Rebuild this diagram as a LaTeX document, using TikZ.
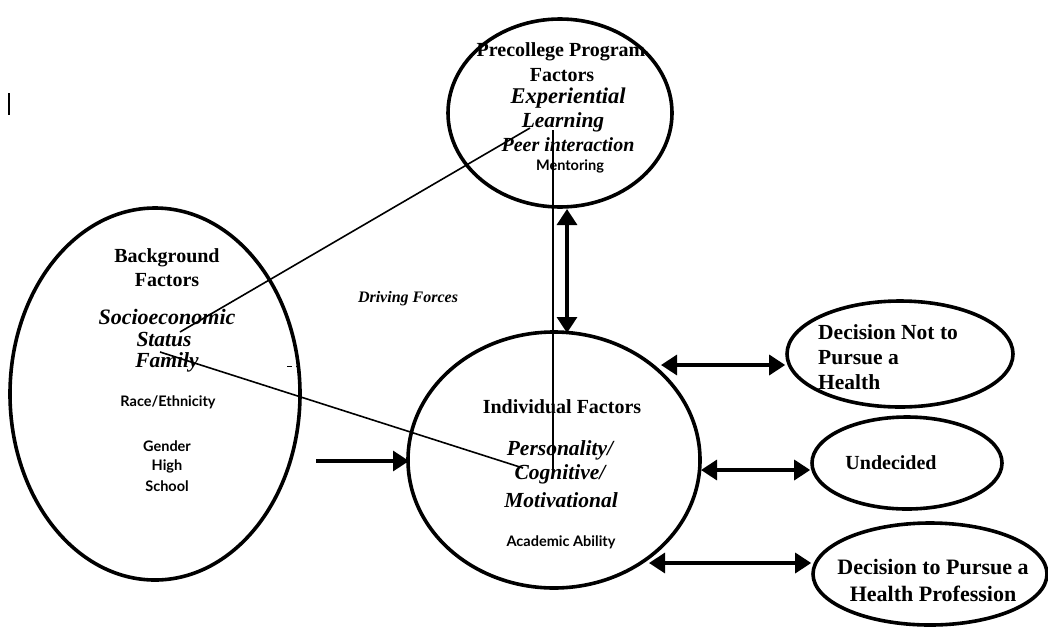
\documentclass[tikz,border=0pt]{standalone}
\usepackage{fontspec}
\setmainfont{Liberation Serif}
\newfontfamily\gill{Lato}
\usetikzlibrary{shapes.geometric,arrows.meta}
\tikzset{
  oval/.style={ellipse, draw, line width=3.6pt, inner sep=0pt},
  tb/.style={inner sep=0pt, font=\bfseries\fontsize{20}{22}\selectfont},
  ti/.style={inner sep=0pt, font=\bfseries\itshape\fontsize{21.5}{23}\selectfont},
  ts/.style={inner sep=0pt, font=\gill\bfseries\fontsize{14.5}{16}\selectfont},
  dbl/.style={line width=3.2pt, {Triangle[length=16pt,width=20pt]}-{Triangle[length=16pt,width=20pt]}},
  sgl/.style={line width=3.2pt, -{Triangle[length=16pt,width=20pt]}},
  thin/.style={line width=1.6pt}
}
\begin{document}
\begin{tikzpicture}[x=1pt,y=-1pt]
\useasboundingbox (0,0) rectangle (1048,627);
% ellipses
\node[oval, minimum width=224pt, minimum height=188pt] (pre) at (560,113) {};
\node[oval, minimum width=290pt, minimum height=372pt] (bg) at (155,394) {};
\node[oval, minimum width=292pt, minimum height=256pt] (ind) at (554,460) {};
\node[oval, minimum width=226pt, minimum height=106pt] (dnot) at (900,354) {};
\node[oval, minimum width=190pt, minimum height=92pt] (und) at (907,463) {};
\node[oval, minimum width=234pt, minimum height=102pt] (dyes) at (930,574) {};
% precollege text
\node[tb] (p1) at (561,52) {Precollege Program};
\node[tb] (p2) at (562,75) {Factors};
\node[ti, font=\bfseries\itshape\fontsize{22.5}{24}\selectfont] (p3) at (568,98) {Experiential};
\node[ti] (p4) at (563,122) {Learning};
\node[ti, font=\bfseries\itshape\fontsize{20}{22}\selectfont] (p5) at (568,145) {Peer interaction};
\node[ts] (p6) at (570,166) {Mentoring};
% background text
\node[tb] (b1) at (167,258) {Background};
\node[tb] (b2) at (167,280) {Factors};
\node[ti, font=\bfseries\itshape\fontsize{22}{24}\selectfont] (b3) at (167,317) {Socioeconomic};
\node[ti] (b4) at (164,340) {Status};
\node[ti] (b5) at (167,362) {Family};
\node[ts] (b6) at (168,402) {Race/Ethnicity};
\node[ts] (b7) at (167,446) {Gender};
\node[ts] (b8) at (167,466) {High};
\node[ts] (b9) at (167,486) {School};
% individual text
\node[tb] (i1) at (562,407) {Individual Factors};
\node[ti] (i2) at (560,450) {Personality/};
\node[ti] (i3) at (560,474) {Cognitive/};
\node[ti] (i4) at (561,500) {Motivational};
\node[ts] (i5) at (561,542) {Academic Ability};
% outcomes text
\node[tb, font=\bfseries\fontsize{21.5}{23}\selectfont, anchor=west] (d1) at (818,332) {Decision Not to};
\node[tb, font=\bfseries\fontsize{21.5}{23}\selectfont, anchor=west] (d2) at (818,358) {Pursue a};
\node[tb, font=\bfseries\fontsize{21.5}{23}\selectfont, anchor=west] (d3) at (818,382) {Health};
\node[tb] (u1) at (891,463) {Undecided};
\node[tb, font=\bfseries\fontsize{22}{24}\selectfont] (y1) at (933,567) {Decision to Pursue a};
\node[tb, font=\bfseries\fontsize{22}{24}\selectfont] (y2) at (933,594) {Health Profession};
% driving forces
\node[ti, font=\bfseries\itshape\fontsize{16}{18}\selectfont] (df) at (408,299) {Driving Forces};
% connectors
\coordinate (a1) at (661,365);
\coordinate (a2) at (701,470);
\coordinate (a3) at (649,563);
\draw[dbl] (a1) -- (dnot.west |- a1);
\draw[dbl] (a2) -- (und.west |- a2);
\draw[dbl] (a3) -- (dyes.west |- a3);
\coordinate (v1) at (567,209);
\coordinate (v2) at (567,333);
\draw[dbl] (v1) -- (v2);
\coordinate (h1) at (316,461);
\coordinate (h2) at (409,461);
\draw[sgl] (h1) -- (h2);
% thin lines
\coordinate (t1) at (553,130);
\coordinate (t2) at (553,473);
\draw[thin] (t1) -- (t2);
\coordinate (s1) at (180,332);
\coordinate (s2) at (530,128);
\draw[thin] (s1) -- (s2);
\coordinate (f1) at (160,352);
\coordinate (f2) at (523,468);
\draw[thin] (f1) -- (f2);
% stray marks
\coordinate (m1) at (9,93);
\coordinate (m2) at (9,115);
\draw[line width=2pt] (m1) -- (m2);
\coordinate (m3) at (287,366);
\coordinate (m4) at (292,366);
\coordinate (m5) at (296,366);
\coordinate (m6) at (300,366);
\draw[line width=1pt] (m3) -- (m4) (m5) -- (m6);
\end{tikzpicture}
\end{document}
